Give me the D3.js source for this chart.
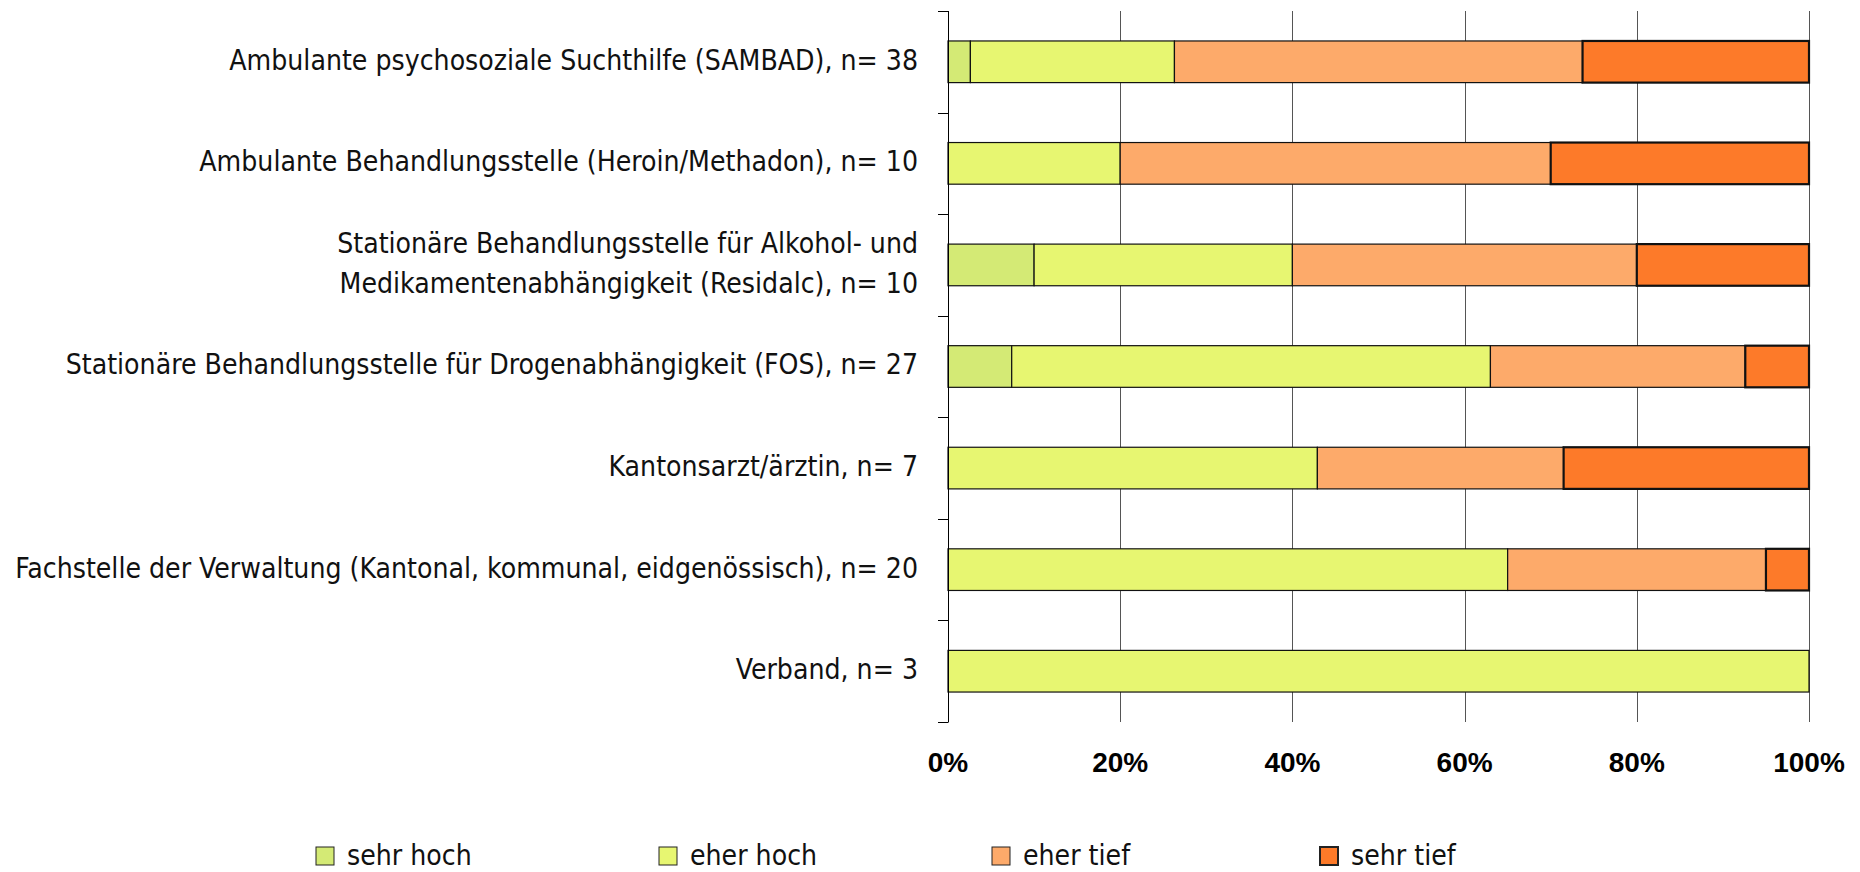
<!DOCTYPE html>
<html>
<head>
<meta charset="utf-8">
<script src="https://cdn.jsdelivr.net/npm/d3@7"></script>
<style>
  body { margin: 0; background: #fff; }
  .cat text { font-family: "DejaVu Sans Condensed", "DejaVu Sans", sans-serif; font-size: 29px; fill: #111; }
  .legend text { font-family: "DejaVu Sans Condensed", "DejaVu Sans", sans-serif; font-size: 29px; fill: #111; }
  .xlab text { font-family: "Liberation Sans", Arial, sans-serif; font-weight: bold; font-size: 28px; fill: #000; }
</style>
</head>
<body>
<script>

// categories, top to bottom (multi-line labels split by "|")
var categories = [
    "Ambulante psychosoziale Suchthilfe (SAMBAD), n= 38",
    "Ambulante Behandlungsstelle (Heroin/Methadon), n= 10",
    "Stationäre Behandlungsstelle für Alkohol- und|Medikamentenabhängigkeit (Residalc), n= 10",
    "Stationäre Behandlungsstelle für Drogenabhängigkeit (FOS), n= 27",
    "Kantonsarzt/ärztin, n= 7",
    "Fachstelle der Verwaltung (Kantonal, kommunal, eidgenössisch), n= 20",
    "Verband, n= 3"
];

var seriesNames = ["sehr hoch", "eher hoch", "eher tief", "sehr tief"];

// shares in percent, per category
var sehrHoch = [2.6, 0, 10, 7.4, 0, 0, 0];
var eherHoch = [23.7, 20, 30, 55.6, 42.9, 65, 100];
var eherTief = [47.4, 50, 40, 29.6, 28.6, 30, 0];
var sehrTief = [26.3, 30, 20, 7.4, 28.5, 5, 0];

var tickValues = [0, 20, 40, 60, 80, 100];

var colors = ["#d4ea75", "#e7f671", "#fdaa6a", "#fd7a29"];

var dim = { width: 1860, height: 872, left: 948, right: 51, top: 11, bottom: 150 };
dim.plotW = dim.width - dim.left - dim.right;
dim.plotH = dim.height - dim.top - dim.bottom;

var rows = categories.map(function(c, i) {
    return { cat: c, "sehr hoch": sehrHoch[i], "eher hoch": eherHoch[i], "eher tief": eherTief[i], "sehr tief": sehrTief[i] };
});

var stack = d3.stack().keys(seriesNames)(rows);

var x = d3.scaleLinear().domain([0, 100]).range([0, dim.plotW]);
var y = d3.scaleBand().domain(categories).range([0, dim.plotH]).paddingInner(0.59).paddingOuter(0.295);
var yTicks = d3.scaleBand().domain(categories).range([0, dim.plotH]);

var svg = d3.select("body").append("svg")
        .attr("width", dim.width)
        .attr("height", dim.height);

var g = svg.append("g")
        .attr("transform", "translate(" + dim.left + "," + dim.top + ")");

// vertical grid lines
g.append("g").selectAll("line")
    .data(tickValues.slice(1))
    .enter().append("line")
        .attr("x1", function(d) { return Math.round(x(d)) + 0.5; })
        .attr("x2", function(d) { return Math.round(x(d)) + 0.5; })
        .attr("y1", 0)
        .attr("y2", dim.plotH)
        .attr("stroke", "#555")
        .attr("stroke-width", 1);

// bars
var layer = g.append("g").selectAll("g.series")
    .data(stack)
    .enter().append("g")
        .attr("class", "series")
        .attr("fill", function(d, i) { return colors[i]; });

layer.selectAll("rect")
    .data(function(d) { return d.filter(function(p) { return p[1] - p[0] > 0; }); })
    .enter().append("rect")
        .attr("x", function(d) { return x(d[0]); })
        .attr("y", function(d) { return y(d.data.cat); })
        .attr("width", function(d) { return x(d[1]) - x(d[0]); })
        .attr("height", y.bandwidth())
        .attr("stroke", "#111")
        .attr("stroke-width", function() { return d3.select(this.parentNode).datum().key == "sehr tief" ? 2.2 : 1.2; });

// left axis line + ticks between categories
var axisG = g.append("g");
axisG.append("line")
    .attr("x1", 0.5).attr("x2", 0.5)
    .attr("y1", 0).attr("y2", dim.plotH)
    .attr("stroke", "#000");
var bounds = categories.map(function(c) { return yTicks(c); }).concat([dim.plotH]);
axisG.selectAll("line.tick")
    .data(bounds)
    .enter().append("line")
        .attr("class", "tick")
        .attr("x1", -10).attr("x2", 0.5)
        .attr("y1", function(d) { return Math.round(d) + 0.5; })
        .attr("y2", function(d) { return Math.round(d) + 0.5; })
        .attr("stroke", "#000");

// category labels (condensed horizontally so the longest one fits like the original)
var catG = g.append("g").attr("class", "cat")
        .attr("transform", "translate(-30,0)");
var catText = catG.selectAll("text")
    .data(categories)
    .enter().append("text")
        .attr("text-anchor", "end")
        .each(function(d) {
            var lines = d.split("|");
            var cy = yTicks(d) + yTicks.bandwidth() / 2;
            var t = d3.select(this);
            lines.forEach(function(l, k) {
                t.append("tspan")
                    .attr("x", 0)
                    .attr("y", cy + 8 + (k - (lines.length - 1) / 2) * 40)
                    .text(l + (k > 0 ? " " : ""));
            });
        });
var maxW = d3.max(catText.nodes(), function(n) { return n.getBBox().width; });
var sx = 903 / maxW;
catG.attr("transform", "translate(-30,0) scale(" + sx + ",1)");

// x tick labels
var xl = g.append("g").attr("class", "xlab");
xl.selectAll("text")
    .data(tickValues)
    .enter().append("text")
        .attr("x", function(d) { return x(d); })
        .attr("y", 772 - dim.top)
        .attr("text-anchor", "middle")
        .text(function(d) { return d + "%"; });

// legend
var legendX = [316, 659, 992, 1320];
var legend = svg.append("g").attr("class", "legend")
    .selectAll("g")
    .data(seriesNames)
    .enter().append("g")
        .attr("transform", function(d, i) { return "translate(" + legendX[i] + ",847)"; });
legend.append("rect")
    .attr("width", 18).attr("height", 18)
    .attr("fill", function(d, i) { return colors[i]; })
    .attr("stroke", "#222")
    .attr("stroke-width", function(d, i) { return i == 3 ? 2 : 1; });
legend.append("text")
    .attr("transform", "translate(31,18) scale(" + sx + ",1)")
    .text(function(d) { return d; });

</script>
</body>
</html>
